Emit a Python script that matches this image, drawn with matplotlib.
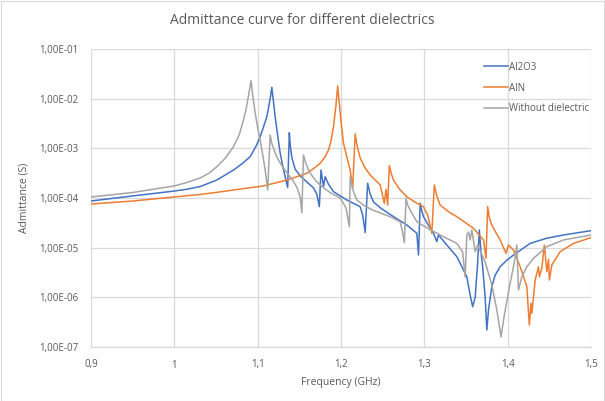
import matplotlib
matplotlib.use("Agg")
import matplotlib.pyplot as plt
from matplotlib.patches import Rectangle
from matplotlib.ticker import FixedLocator

# Frequency (GHz) and admittance (S)
freq_al2o3 = [0.900, 0.950, 1.000, 1.015, 1.031, 1.051, 1.071, 1.082, 1.091, 1.098,
              1.103, 1.107, 1.111, 1.113, 1.115, 1.117, 1.119, 1.121, 1.124, 1.127,
              1.130, 1.133, 1.136, 1.138, 1.139, 1.141, 1.145, 1.151, 1.159, 1.167,
              1.171, 1.174, 1.176, 1.179, 1.181, 1.185, 1.191, 1.207, 1.223, 1.226,
              1.229, 1.232, 1.235, 1.239, 1.248, 1.259, 1.279, 1.291, 1.293, 1.295,
              1.297, 1.299, 1.305, 1.311, 1.315, 1.317, 1.327, 1.339, 1.351, 1.355,
              1.358, 1.361, 1.364, 1.366, 1.368, 1.370, 1.373, 1.375, 1.377, 1.381,
              1.385, 1.391, 1.399, 1.407, 1.427, 1.447, 1.467, 1.500]
adm_al2o3 = [8.7e-5, 1.10e-4, 1.38e-4, 1.5e-4, 1.7e-4, 2.3e-4, 3.66e-4, 5.0e-4, 6.79e-4, 1.1e-3,
             1.71e-3, 2.7e-3, 4.34e-3, 6.5e-3, 1.0e-2, 1.69e-2, 8.5e-3, 4.34e-3, 1.8e-3, 8.05e-4,
             4.5e-4, 2.68e-4, 1.63e-4, 2.06e-3, 1.2e-3, 6.5e-4, 3.8e-4, 2.8e-4, 2.1e-4, 1.6e-4,
             1.2e-4, 6.68e-5, 3.66e-4, 1.69e-4, 2.68e-4, 1.9e-4, 1.34e-4, 9.12e-5, 6.68e-5, 4.55e-5,
             2.02e-5, 1.98e-4, 1.2e-4, 8.3e-5, 6.2e-5, 4.66e-5, 2.86e-5, 1.95e-5, 7.1e-6, 7.82e-5,
             5.5e-5, 4.21e-5, 2.8e-5, 1.95e-5, 1.32e-5, 1.8e-5, 1.13e-5, 6.58e-6, 2.6e-6, 1.11e-6,
             6.47e-7, 1.0e-6, 5.0e-6, 2.27e-5, 8.0e-6, 4.1e-6, 1.0e-6, 2.2e-7, 5.6e-7, 1.64e-6,
             2.8e-6, 4.14e-6, 5.6e-6, 7.1e-6, 1.22e-5, 1.55e-5, 1.8e-5, 2.2e-5]

freq_aln = [0.900, 0.950, 1.000, 1.031, 1.051, 1.071, 1.107, 1.135, 1.159, 1.167,
            1.175, 1.181, 1.185, 1.188, 1.191, 1.194, 1.196, 1.198, 1.200, 1.203,
            1.207, 1.211, 1.214, 1.217, 1.219, 1.223, 1.229, 1.235, 1.247, 1.252,
            1.254, 1.256, 1.258, 1.260, 1.263, 1.271, 1.279, 1.289, 1.299, 1.304,
            1.309, 1.312, 1.315, 1.319, 1.329, 1.339, 1.359, 1.371, 1.374, 1.376,
            1.378, 1.381, 1.386, 1.391, 1.398, 1.401, 1.407, 1.415, 1.423, 1.426,
            1.428, 1.429, 1.433, 1.437, 1.438, 1.441, 1.444, 1.447, 1.449, 1.450,
            1.453, 1.463, 1.479, 1.500]
adm_aln = [7.57e-5, 8.7e-5, 1.05e-4, 1.18e-4, 1.3e-4, 1.45e-4, 1.75e-4, 2.3e-4, 3.14e-4, 3.9e-4,
           5.0e-4, 6.8e-4, 9.25e-4, 1.4e-3, 2.73e-3, 7.45e-3, 1.8e-2, 8.0e-3, 3.5e-3, 1.26e-3,
           6.7e-4, 3.66e-4, 1.57e-4, 1.95e-3, 1.2e-3, 6.38e-4, 4.0e-4, 2.9e-4, 1.83e-4, 7.82e-5,
           1.5e-4, 7.2e-5, 4.5e-4, 3.2e-4, 2.3e-4, 1.45e-4, 1.06e-4, 8.2e-5, 6.68e-5, 4.55e-5,
           1.95e-5, 1.83e-4, 1.1e-4, 7.2e-5, 5.3e-5, 4.21e-5, 2.45e-5, 1.43e-5, 6.1e-6, 6.68e-5,
           4.0e-5, 2.86e-5, 2.0e-5, 1.43e-5, 7.7e-6, 1.13e-5, 8.97e-6, 4.14e-6, 1.64e-6, 2.77e-7,
           7.58e-7, 4.78e-7, 2.23e-6, 4.14e-6, 2.6e-6, 3.85e-6, 1.13e-5, 3.28e-6, 5.83e-6, 2.23e-6,
           4.48e-6, 8.3e-6, 1.22e-5, 1.59e-5]

freq_none = [0.900, 0.950, 1.000, 1.015, 1.031, 1.042, 1.051, 1.061, 1.071, 1.078,
             1.083, 1.086, 1.089, 1.092, 1.094, 1.097, 1.100, 1.103, 1.106, 1.109,
             1.112, 1.115, 1.117, 1.121, 1.125, 1.130, 1.136, 1.142, 1.147, 1.151,
             1.153, 1.155, 1.158, 1.163, 1.170, 1.178, 1.188, 1.199, 1.206, 1.210,
             1.211, 1.214, 1.219, 1.228, 1.238, 1.259, 1.271, 1.274, 1.276, 1.278,
             1.280, 1.283, 1.291, 1.305, 1.319, 1.339, 1.346, 1.349, 1.351, 1.353,
             1.355, 1.357, 1.361, 1.364, 1.373, 1.381, 1.387, 1.392, 1.396, 1.403,
             1.408, 1.411, 1.413, 1.417, 1.423, 1.431, 1.447, 1.467, 1.500]
adm_none = [1.05e-4, 1.29e-4, 1.75e-4, 2.05e-4, 2.53e-4, 3.2e-4, 4.27e-4, 6.3e-4, 1.08e-3, 1.9e-3,
            3.72e-3, 6.0e-3, 1.15e-2, 2.3e-2, 1.2e-2, 5.14e-3, 2.6e-3, 1.47e-3, 7.5e-4, 3.66e-4,
            1.45e-4, 1.85e-3, 1.25e-3, 8.05e-4, 5.8e-4, 4.21e-4, 3.1e-4, 2.3e-4, 1.65e-4, 1.05e-4,
            5.06e-5, 7.34e-4, 4.8e-4, 3.18e-4, 2.2e-4, 1.66e-4, 1.25e-4, 1.0e-4, 6.3e-5, 2.64e-5,
            2.68e-4, 1.5e-4, 9.1e-5, 7.0e-5, 5.73e-5, 4.2e-5, 3.33e-5, 2.0e-5, 1.26e-5, 9.86e-5,
            7.2e-5, 5.73e-5, 3.33e-5, 2.4e-5, 1.8e-5, 1.22e-5, 8.2e-6, 2.56e-6, 1.8e-5, 2.07e-5,
            1.43e-5, 2.27e-5, 8.3e-6, 1.13e-5, 5.14e-6, 1.77e-6, 5.56e-7, 1.59e-7, 4.4e-7, 1.92e-6,
            5.14e-6, 1.13e-5, 1.41e-6, 2.6e-6, 4.14e-6, 6.1e-6, 1.05e-5, 1.43e-5, 1.8e-5]

series_names = ["Al2O3", "AlN", "Without dielectric"]
x_ticks = [0.9, 1.0, 1.1, 1.2, 1.3, 1.4, 1.5]
x_tick_labels = ["0,9", "1", "1,1", "1,2", "1,3", "1,4", "1,5"]
y_ticks = [1e-7, 1e-6, 1e-5, 1e-4, 1e-3, 1e-2, 1e-1]
y_tick_labels = ["1,00E-07", "1,00E-06", "1,00E-05", "1,00E-04", "1,00E-03", "1,00E-02", "1,00E-01"]

plt.rcParams['font.family'] = ['Open Sans', 'DejaVu Sans']
txt = '#595959'
grid = '#d9d9d9'

fig = plt.figure(figsize=(6.05, 4.01), dpi=100)
W, H = 605, 401
ax = fig.add_axes([91 / W, 1 - 347 / H, 500 / W, 298 / H])

colors = ['#4472C4', '#ED7D31', '#A5A5A5']
ax.plot(freq_al2o3, adm_al2o3, color=colors[0], lw=1.1, label=series_names[0], zorder=3)
ax.plot(freq_aln, adm_aln, color=colors[1], lw=1.1, label=series_names[1], zorder=3)
ax.plot(freq_none, adm_none, color=colors[2], lw=1.1, label=series_names[2], zorder=3)

ax.set_yscale('log')
ax.set_xlim(0.9, 1.5)
ax.set_ylim(1e-7, 1e-1)
ax.xaxis.set_major_locator(FixedLocator(x_ticks))
ax.set_xticklabels(x_tick_labels)
ax.yaxis.set_major_locator(FixedLocator(y_ticks))
ax.yaxis.set_minor_locator(FixedLocator([]))
ax.set_yticklabels(y_tick_labels)
ax.tick_params(axis='x', length=0, labelsize=7, colors=txt, pad=9)
ax.tick_params(axis='y', length=0, labelsize=7, colors=txt, pad=9)
ax.grid(True, color=grid, lw=0.9)
ax.set_axisbelow(True)
for s in ['top', 'right', 'left']:
    ax.spines[s].set_visible(False)
ax.spines['bottom'].set_color(grid)
ax.spines['bottom'].set_linewidth(0.9)

ax.set_xlabel('Frequency (GHz)', fontsize=7.5, color=txt, labelpad=5)
ax.set_ylabel('Admittance (S)', fontsize=7.5, color=txt, labelpad=7)
fig.text(0.5, 1 - 21 / H, 'Admittance curve for different dielectrics',
         ha='center', va='center', fontsize=10, color=txt)

leg = ax.legend(loc='upper left', bbox_to_anchor=(0.779, 0.97), frameon=False,
                fontsize=7, labelspacing=1.0, handlelength=2.4, handletextpad=0.1,
                borderaxespad=0)
for t in leg.get_texts():
    t.set_color(txt)

fig.patches.append(Rectangle((0.5 / W, 0.5 / H), 1 - 1.5 / W, 1 - 1.5 / H,
                             transform=fig.transFigure, fill=False, ec=grid, lw=0.8))
fig.savefig('out.png', dpi=100)
